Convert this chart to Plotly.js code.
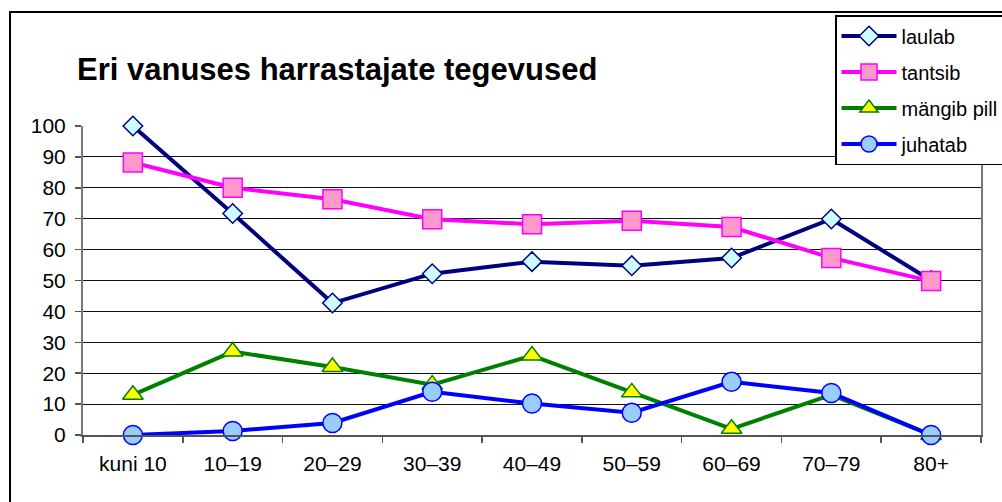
<!DOCTYPE html>
<html>
<head>
<meta charset="utf-8">
<script src="https://cdn.plot.ly/plotly-3.0.1.min.js"></script>
<style>html,body{margin:0;padding:0;background:#fff;}#chart{width:1002px;height:502px;}</style>
</head>
<body>
<div id="chart"></div>
<script>
var categories = ["kuni 10", "10–19", "20–29", "30–39", "40–49", "50–59", "60–69", "70–79", "80+"];
var laulab = [100, 71.7, 42.7, 52.2, 56.1, 54.8, 57.3, 69.9, 50];
var tantsib = [88.2, 80, 76.3, 69.8, 68.2, 69.3, 67.3, 57.3, 49.8];
var mangibPill = [13, 27, 22, 16.3, 25.7, 13.8, 2, 13, 0];
var juhatab = [0, 1.3, 3.9, 14, 10.2, 7.2, 17.2, 13.6, 0];
var seriesNames = ["laulab", "tantsib", "mängib pill", "juhatab"];
var yTickVals = [0, 10, 20, 30, 40, 50, 60, 70, 80, 90, 100];

var FONT = "Liberation Sans, Arial, sans-serif";
var W = 1002, H = 502;
var L = 83, R = 981, T = 126, B = 435;
var pw = R - L, ph = B - T;
function px(x) { return (x - L) / pw; }
function py(y) { return (B - y) / ph; }

var traces = [
  {name: seriesNames[0], y: laulab, line: {color: "#000080", width: 4},
   marker: {symbol: "diamond", size: 15, color: "#CCFFFF", line: {color: "#000080", width: 1.5}}},
  {name: seriesNames[1], y: tantsib, line: {color: "#FF00FF", width: 4},
   marker: {symbol: "square", size: 19, color: "#FF99CC", line: {color: "#FF00FF", width: 1.5}}},
  {name: seriesNames[2], y: mangibPill, line: {color: "#008000", width: 4},
   marker: {symbol: "triangle-up", size: 18, color: "#FFFF00", line: {color: "#008000", width: 1.5}}},
  {name: seriesNames[3], y: juhatab, line: {color: "#0000FF", width: 4},
   marker: {symbol: "circle", size: 19, color: "#99CCFF", line: {color: "#0000FF", width: 1.5}}}
].map(function (t, i) {
  t.x = categories; t.type = "scatter"; t.mode = "lines+markers";
  t.legendgroup = "g" + i; t.cliponaxis = false;
  return t;
});

var layout = {
  width: W, height: H,
  paper_bgcolor: "#fff", plot_bgcolor: "#fff",
  margin: {l: L, r: W - R, t: T, b: H - B, autoexpand: false},
  font: {family: FONT, size: 20, color: "#000"},
  title: {text: "<b>Eri vanuses harrastajate tegevused</b>", x: 77 / W, xref: "container", xanchor: "left",
          y: 1 - 69 / H, yref: "container", yanchor: "middle",
          font: {family: FONT, size: 31, color: "#000"}},
  xaxis: {type: "category", range: [-0.5, 8.5], showgrid: false, zeroline: false,
          showline: true, linecolor: "#555", linewidth: 2,
          ticks: "outside", tickson: "boundaries", ticklen: 6, tickcolor: "#555", tickwidth: 1.5,
          tickfont: {family: FONT, size: 21, color: "#000"}, ticklabelstandoff: 9, fixedrange: true},
  yaxis: {range: [0, 100], tickvals: yTickVals, showgrid: true, gridcolor: "#111", gridwidth: 1,
          zeroline: false, showline: true, linecolor: "#777", linewidth: 2, mirror: true,
          ticks: "outside", ticklen: 6, tickcolor: "#555", tickwidth: 1.5,
          tickfont: {family: FONT, size: 21, color: "#000"}, ticklabelstandoff: 5, fixedrange: true},
  showlegend: true,
  legend: {x: px(835), xanchor: "left", y: py(15), yanchor: "top", xref: "paper", yref: "paper",
           bgcolor: "#fff", bordercolor: "#000", borderwidth: 1.5,
           font: {family: FONT, size: 20, color: "#000"}, tracegroupgap: 7, itemwidth: 55,
           entrywidth: 200},
  shapes: [
    {type: "rect", xref: "paper", yref: "paper", x0: px(10), x1: px(1040), y0: py(12), y1: py(540),
     line: {color: "#000", width: 2}, fillcolor: "rgba(0,0,0,0)", layer: "below"}
  ]
};

Plotly.newPlot("chart", traces, layout, {staticPlot: true, displayModeBar: false});
</script>
</body>
</html>
